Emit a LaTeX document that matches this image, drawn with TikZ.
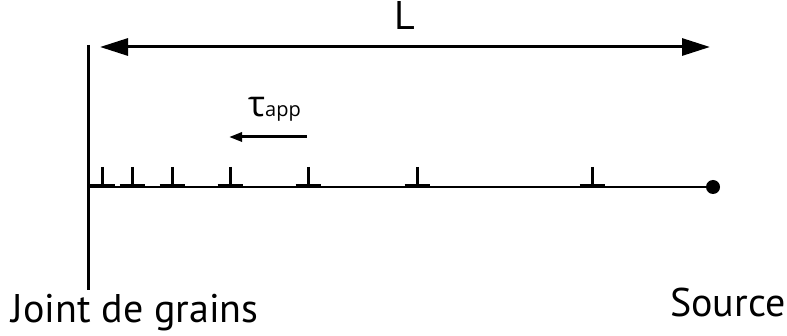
\documentclass[tikz,border=0pt]{standalone}
\usepackage{fontspec}
\setmainfont{PT Sans}
\newfontfamily\grec{Open Sans}
\usetikzlibrary{arrows.meta}
\begin{document}
\begin{tikzpicture}[
  x=1pt, y=-1pt,
  wall/.style={line width=3pt, draw=black},
  cote/.style={line width=3pt, draw=black, {Triangle[length=28pt,width=17pt]}-{Triangle[length=28pt,width=17pt]}},
  fleche/.style={line width=3pt, draw=black, -{Triangle[length=13pt,width=9pt]}},
  glisse/.style={line width=1.5pt, draw=black},
  dpied/.style={line width=3pt, draw=black},
  dbarre/.style={line width=3.5pt, draw=black},
  lab/.style={inner sep=0pt, font=\fontsize{40}{44}\selectfont}
]
  \useasboundingbox (0,0) rectangle (787,336);

  % Joint de grains et source
  \coordinate (jh) at (88,45);
  \coordinate (jb) at (88,290);
  \coordinate (j0) at (88,187);
  \node[circle, fill=black, inner sep=0pt, minimum size=14pt] (src) at (713,187) {};
  \draw[wall] (jh) -- (jb);
  \draw[glisse] (j0) -- (src);

  % Dislocations
  \foreach \x [count=\i] in {102,132,172,230,308,417,592} {
    \coordinate (p\i) at (\x,167);
    \coordinate (b\i) at (\x,186);
    \draw[dpied] (p\i) -- (b\i);
    \draw[dbarre] ([xshift=-12.5pt]b\i) -- ([xshift=12.5pt]b\i);
  }

  % Longueur L
  \coordinate (la) at (100,47);
  \coordinate (lb) at (710,47);
  \draw[cote] (la) -- (lb);
  \node[lab, anchor=base] (lL) at (405,30) {L};

  % Contrainte appliquee
  \coordinate (ta) at (307,137);
  \coordinate (tb) at (229,137);
  \draw[fleche] (ta) -- (tb);
  \node[inner sep=0pt, anchor=base west] (tau) at (248,117)
    {\grec\fontsize{36}{40}\selectfont τ\fontsize{20}{22}\selectfont app};

  % Etiquettes
  \node[lab, anchor=base west] (jg) at (11.5,323) {Joint de grains};
  \node[lab, anchor=base west] (so) at (670,317) {Source};
\end{tikzpicture}
\end{document}
